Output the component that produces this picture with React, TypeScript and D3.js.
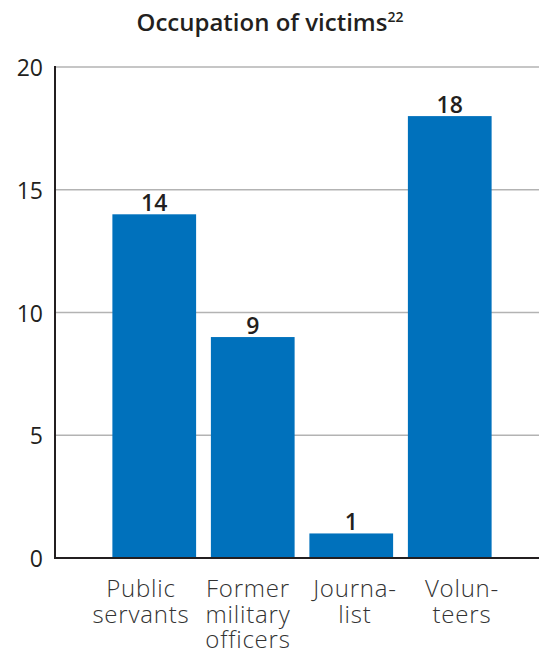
import React from "react";
import * as d3 from "d3";

const categories: string[][] = [
  ["Public", "servants"],
  ["Former", "military", "officers"],
  ["Journa-", "list"],
  ["Volun-", "teers"],
];
const values: number[] = [14, 9, 1, 18];
const yTicks: number[] = [0, 5, 10, 15, 20];
const title = "Occupation of victims";
const titleSup = "22";

export default function App() {
  const W = 539;
  const H = 650;
  const x0 = 55;
  const x1 = 539;
  const y = d3.scaleLinear().domain([0, 20]).range([558, 67]);
  const x = d3
    .scaleBand<number>()
    .domain(values.map((_, i) => i))
    .range([105, 499])
    .paddingInner(0.15)
    .paddingOuter(0.075);
  const xl = d3
    .scalePoint<number>()
    .domain(values.map((_, i) => i))
    .range([141, 462]);
  const font = "'Open Sans', Lato, sans-serif";
  const dark = "#231f20";
  const blue = "#0071bc";

  return (
    <svg
      width={W}
      height={H}
      style={{ position: "absolute", left: 0, top: 0 }}
      fontFamily={font}
    >
      <text x={270} y={31} textAnchor="middle" fontSize={24} fontWeight={600} fill={dark}>
        {title}
        <tspan fontSize={14} dy={-9}>
          {titleSup}
        </tspan>
      </text>
      {yTicks
        .filter((t) => t > 0)
        .map((t) => (
          <line key={"g" + t} x1={x0} x2={x1} y1={y(t)} y2={y(t)} stroke="#b3b3b3" strokeWidth={1.5} />
        ))}
      {yTicks.map((t) => (
        <text key={"t" + t} x={43} y={y(t) + 9} textAnchor="end" fontSize={23} fill={dark}>
          {t}
        </text>
      ))}
      {values.map((v, i) => (
        <g key={"b" + i}>
          <rect x={x(i)} y={y(v)} width={x.bandwidth()} height={y(0) - y(v)} fill={blue} />
          <text
            x={(x(i) as number) + x.bandwidth() / 2}
            y={y(v) - 3}
            textAnchor="middle"
            fontSize={23}
            fontWeight={600}
            fill={dark}
          >
            {v}
          </text>
          {categories[i].map((line, j) => (
            <text
              key={j}
              x={xl(i) as number}
              y={597 + j * 25.5}
              textAnchor="middle"
              fontSize={24}
              fontWeight={300}
              letterSpacing={0.8}
              fill="#333"
            >
              {line}
            </text>
          ))}
        </g>
      ))}
      <line x1={x0} x2={x0} y1={y(20) - 1} y2={y(0)} stroke={dark} strokeWidth={2} />
      <line x1={x0 - 1} x2={x1} y1={y(0)} y2={y(0)} stroke={dark} strokeWidth={2} />
    </svg>
  );
}
